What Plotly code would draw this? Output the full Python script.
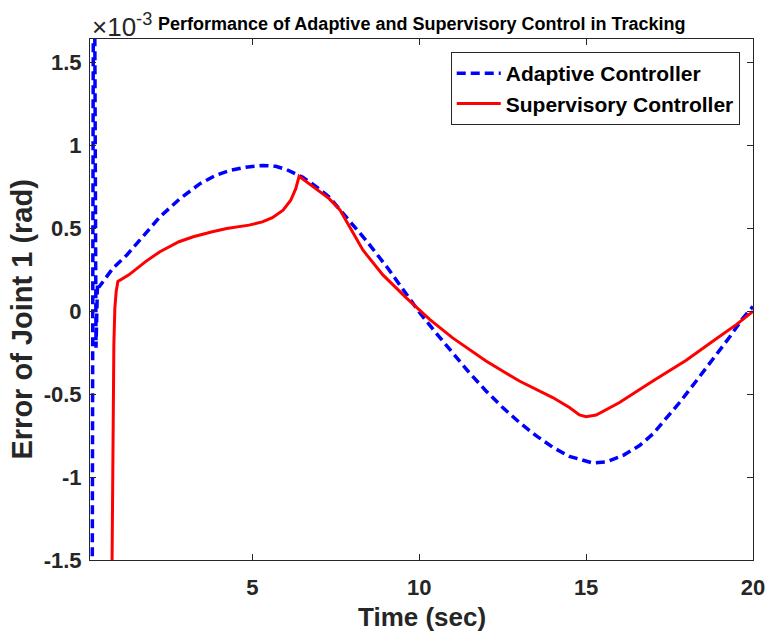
import plotly.graph_objects as go

# time (sec) and error (x 1e-3 rad)
t_adaptive = [0.20, 0.235, 0.275, 0.315, 0.36, 0.40, 0.60, 0.82, 1.24, 1.5, 1.9, 2.23, 2.83, 3.43, 3.9,
              4.33, 4.8, 5.3, 5.7, 6.03, 6.5, 6.93, 7.3, 7.63, 8.0, 8.42, 9.06, 9.72, 10.02, 10.5,
              11.0, 11.5, 12.0, 12.5, 13.0, 13.5, 14.0, 14.5, 15.2, 15.62, 16.1, 16.6, 17.0, 17.3,
              17.8, 18.3, 18.8, 19.3, 19.7, 20.0]
e_adaptive = [-1.9, 1.9, 1.9, -0.22, 0.17, 0.145, 0.20, 0.26, 0.34, 0.40, 0.49, 0.57, 0.68, 0.77, 0.82,
              0.85, 0.87, 0.88, 0.875, 0.855, 0.81, 0.75, 0.69, 0.61, 0.52, 0.425, 0.26, 0.08, -0.01, -0.13,
              -0.25, -0.37, -0.48, -0.58, -0.67, -0.75, -0.82, -0.875, -0.915, -0.907, -0.87, -0.81, -0.74, -0.67,
              -0.55, -0.42, -0.29, -0.155, -0.04, 0.03]

t_supervisory = [0.78, 0.80, 0.82, 0.85, 0.88, 0.92, 0.97, 1.3, 1.8, 2.23, 2.8, 3.23, 3.8, 4.23, 4.9,
                 5.3, 5.6, 5.92, 6.15, 6.3, 6.40, 6.7, 6.93, 7.3, 7.63, 7.8, 7.92, 8.31, 8.91, 9.62, 10.32,
                 11.0, 12.0, 13.0, 14.0, 14.5, 14.8, 15.0, 15.3, 15.6, 16.0, 17.0, 18.0, 18.9, 19.5, 20.0]
e_supervisory = [-1.9, -1.2, -0.6, -0.2, 0.02, 0.12, 0.18, 0.22, 0.30, 0.36, 0.42, 0.45, 0.48, 0.50, 0.52,
                 0.54, 0.565, 0.61, 0.67, 0.74, 0.815, 0.77, 0.73, 0.68, 0.61, 0.55, 0.50, 0.37, 0.22, 0.08, -0.05,
                 -0.16, -0.30, -0.42, -0.52, -0.58, -0.625, -0.635, -0.625, -0.595, -0.55, -0.42, -0.295, -0.165, -0.08, 0.0]

x_ticks = [5, 10, 15, 20]
y_ticks = [-1.5, -1, -0.5, 0, 0.5, 1, 1.5]
y_tick_text = ["-1.5", "-1", "-0.5", "0", "0.5", "1", "1.5"]

FONT = "Liberation Sans, Arial, Helvetica, sans-serif"
AX = "#262626"

fig = go.Figure()
fig.add_trace(go.Scatter(x=t_adaptive, y=e_adaptive, mode="lines", name="Adaptive Controller",
                         line=dict(color="#0000FF", width=3.5, dash="9px,5px")))
fig.add_trace(go.Scatter(x=t_supervisory, y=e_supervisory, mode="lines", name="Supervisory Controller",
                         line=dict(color="#FF0000", width=3)))

axis_common = dict(showline=True, linecolor=AX, linewidth=1, mirror="ticks", ticks="inside",
                   ticklen=6, tickcolor=AX, showgrid=False, zeroline=False, automargin=False,
                   tickfont=dict(family=FONT, size=22, color=AX, weight="bold"))

fig.update_layout(
    width=769, height=631,
    margin=dict(l=90, r=16, t=39, b=71),
    paper_bgcolor="white", plot_bgcolor="white",
    xaxis=dict(range=[0.135, 20], tickvals=x_ticks, ticktext=[str(v) for v in x_ticks],
               ticklabelstandoff=8, **axis_common),
    yaxis=dict(range=[-1.5, 1.643], tickvals=y_ticks, ticktext=y_tick_text,
               ticklabelstandoff=3, **axis_common),
    legend=dict(x=0.980, y=0.975, xanchor="right", yanchor="top", bgcolor="white",
                bordercolor=AX, borderwidth=1, font=dict(family=FONT, size=21, color="black", weight="bold"),
                tracegroupgap=0, itemwidth=44),
    showlegend=True,
    annotations=[
        dict(text="Performance of Adaptive and Supervisory Control in Tracking", xref="paper", yref="paper",
             x=0.5, y=1.0, yshift=3, xanchor="center", yanchor="bottom", showarrow=False,
             font=dict(family=FONT, size=18, color="black", weight="bold")),
        dict(text="×10<sup>-3</sup>", xref="paper", yref="paper", x=0.0, y=1.0, yshift=-5,
             xanchor="left", yanchor="bottom", showarrow=False,
             font=dict(family=FONT, size=26, color=AX)),
        dict(text="Time (sec)", xref="paper", yref="paper", x=0.5, y=-0.109,
             xanchor="center", yanchor="middle", showarrow=False,
             font=dict(family=FONT, size=26, color=AX, weight="bold")),
        dict(text="Error of Joint 1 (rad)", xref="paper", yref="paper", x=-0.103, y=0.461,
             xanchor="center", yanchor="middle", textangle=-90, showarrow=False,
             font=dict(family=FONT, size=29, color=AX, weight="bold")),
    ],
)

fig.write_html("out.html")
